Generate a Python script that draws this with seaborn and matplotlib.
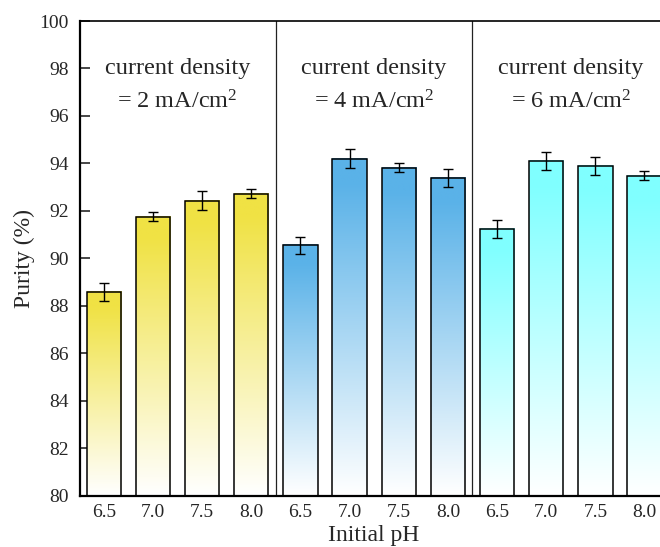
import numpy as np
import pandas as pd
import matplotlib
matplotlib.use("Agg")
import matplotlib.pyplot as plt
import seaborn as sns
from matplotlib.colors import to_rgb

# ---- data ----
ph_labels = ["6.5", "7.0", "7.5", "8.0"]
groups = ["2 mA/cm2", "4 mA/cm2", "6 mA/cm2"]
purity_2 = [88.57, 91.75, 92.42, 92.72]
purity_4 = [90.55, 94.20, 93.82, 93.40]
purity_6 = [91.25, 94.08, 93.88, 93.48]
err_2 = [0.38, 0.2, 0.4, 0.2]
err_4 = [0.35, 0.40, 0.20, 0.38]
err_6 = [0.38, 0.38, 0.38, 0.18]
group_colors = ["#F0E244", "#5AB2E8", "#80FFFF"]
annot_values = ["2", "4", "6"]

sns.set_theme(style="white")
plt.rcParams["font.family"] = ["Liberation Serif", "DejaVu Serif"]
plt.rcParams["mathtext.fontset"] = "custom"
plt.rcParams["mathtext.rm"] = "Liberation Serif"
plt.rcParams["mathtext.it"] = "Liberation Serif:italic"

values = purity_2 + purity_4 + purity_6
errs = err_2 + err_4 + err_6
df = pd.DataFrame({
    "idx": [str(i) for i in range(12)],
    "ph": ph_labels * 3,
    "group": [g for g in groups for _ in ph_labels],
    "purity": values,
})

fig = plt.figure(figsize=(6.6, 5.47), dpi=100)
ax = fig.add_axes([80 / 660, 1 - 495.5 / 547, 1 - 80 / 660 + 0.01, (495.5 - 21) / 547])

sns.barplot(data=df, x="idx", y="purity", hue="group", palette=group_colors,
            order=df["idx"].tolist(), width=0.7, dodge=False, legend=False,
            saturation=1, edgecolor="black", linewidth=1.1, errorbar=None, ax=ax)

ymin, ymax = 80, 100
for patch in ax.patches:
    x0 = patch.get_x()
    w = patch.get_width()
    top = patch.get_y() + patch.get_height()
    col = np.array(to_rgb(patch.get_facecolor()))
    n = 256
    t = np.linspace(0, 1, n)[:, None]  # 0 bottom -> 1 top
    t = np.clip(t * 1.08, 0, 1)
    rgb = (1 - t) * np.ones(3) + t * col
    img = rgb[:, None, :]
    ax.imshow(img, extent=[x0, x0 + w, ymin, top], origin="lower",
              aspect="auto", zorder=patch.get_zorder() - 0.1, interpolation="bilinear")
    patch.set_facecolor("none")

ax.errorbar(np.arange(12), values, yerr=errs, fmt="none", ecolor="black",
            elinewidth=1.0, capsize=3.8, capthick=1.0, zorder=5)

for xs in [3.5, 7.5]:
    ax.axvline(xs, color="#222222", lw=0.9, zorder=1)

ax.set_xlim(-0.485, 11.45)
ax.set_ylim(ymin, ymax)
ax.set_yticks(np.arange(80, 101, 2))
ax.set_xticks(np.arange(12))
ax.set_xticklabels(ph_labels * 3)

ax.tick_params(axis="y", direction="in", length=7, width=1.2, labelsize=14, pad=8, left=True)
ax.tick_params(axis="x", length=0, labelsize=14, pad=6)

for s in ["left", "bottom"]:
    ax.spines[s].set_linewidth(1.6)
    ax.spines[s].set_color("black")
ax.spines["top"].set_linewidth(1.2)
ax.spines["top"].set_color("black")
ax.spines["right"].set_visible(False)

ax.set_xlabel("Initial pH", fontsize=17, labelpad=3)
ax.set_ylabel("Purity (%)", fontsize=17, labelpad=3)

for gi, v in enumerate(annot_values):
    cx = gi * 4 + 1.5
    ax.text(cx, 98.0, "current density", ha="center", va="center", fontsize=17.5, zorder=6)
    ax.text(cx, 96.6, "= " + v + r" mA/cm$^{2}$", ha="center", va="center", fontsize=17.5, zorder=6)

fig.savefig("out.png", dpi=100)
